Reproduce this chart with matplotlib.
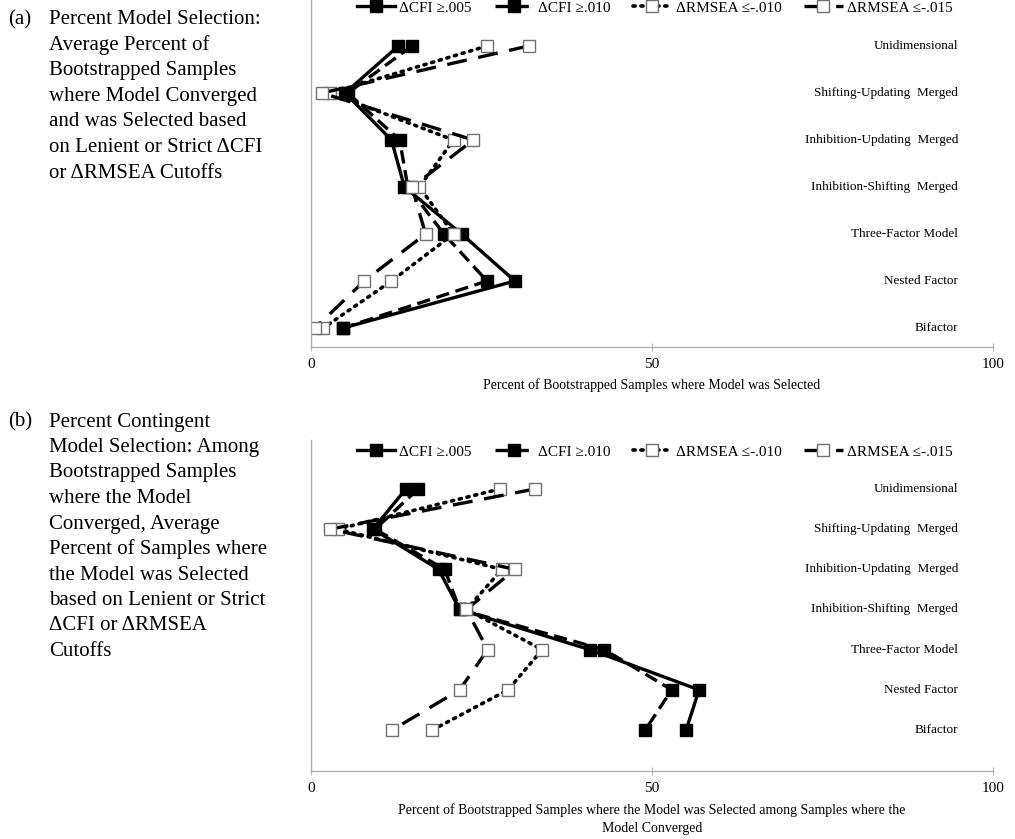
import matplotlib
matplotlib.use('Agg')
import matplotlib.pyplot as plt
from matplotlib.lines import Line2D

plt.rcParams['font.family'] = ['Liberation Serif', 'DejaVu Serif']

W, H = 1015, 839

categories = ['Unidimensional', 'Shifting-Updating  Merged', 'Inhibition-Updating  Merged',
              'Inhibition-Shifting  Merged', 'Three-Factor Model', 'Nested Factor', 'Bifactor']
series_labels = ['\u0394CFI \u2265.005', '\u0394CFI \u2265.010',
                 '\u0394RMSEA \u2264-.010', '\u0394RMSEA \u2264-.015']

# (a) percent model selection, listed top (Unidimensional) to bottom (Bifactor)
cfi005_a = [12.8, 5.0, 11.8, 13.7, 22.1, 29.9, 4.7]
cfi010_a = [14.8, 5.4, 13.0, 14.2, 19.5, 25.8, 4.7]
rmsea010_a = [25.8, 2.8, 20.9, 15.9, 20.9, 11.8, 1.8]
rmsea015_a = [31.9, 1.6, 23.8, 14.8, 16.8, 7.8, 0.6]

# (b) percent contingent model selection
cfi005_b = [13.9, 9.1, 18.7, 21.8, 40.9, 56.9, 55.0]
cfi010_b = [15.7, 9.4, 19.6, 21.8, 43.0, 52.9, 49.0]
rmsea010_b = [27.7, 3.9, 28.0, 22.8, 33.9, 28.9, 17.8]
rmsea015_b = [32.8, 2.8, 29.9, 22.8, 25.9, 21.8, 11.9]

text_a = ['Percent Model Selection:', 'Average Percent of', 'Bootstrapped Samples',
          'where Model Converged', 'and was Selected based',
          'on Lenient or Strict \u0394CFI', 'or \u0394RMSEA Cutoffs']
text_b = ['Percent Contingent', 'Model Selection: Among', 'Bootstrapped Samples',
          'where the Model', 'Converged, Average', 'Percent of Samples where',
          'the Model was Selected', 'based on Lenient or Strict',
          '\u0394CFI or \u0394RMSEA', 'Cutoffs']

xlabel_a = 'Percent of Bootstrapped Samples where Model was Selected'
xlabel_b = ('Percent of Bootstrapped Samples where the Model was Selected among Samples where the\n'
            'Model Converged')

styles = [
    dict(color='black', lw=2.4, ls='-', marker='s', mfc='black', mec='black'),
    dict(color='black', lw=2.4, ls=(0, (4, 2)), marker='s', mfc='black', mec='black'),
    dict(color='black', lw=2.6, ls=(0, (0.6, 1.6)), dash_capstyle='round',
         marker='s', mfc='white', mec='#707070'),
    dict(color='black', lw=2.4, ls=(0, (6, 3.5)), marker='s', mfc='white', mec='#707070'),
]

fig = plt.figure(figsize=(W / 100, H / 100), dpi=100)


def px_axes(left, top, right, bottom):
    return fig.add_axes([left / W, 1 - bottom / H, (right - left) / W, (bottom - top) / H])


def draw_panel(ax, data, ylim, legend_y):
    ypos = list(range(len(categories), 0, -1))
    for vals, st, lab in zip(data, styles, series_labels):
        ax.plot(vals, ypos, ms=8, mew=1.0, label=lab, **st)
    ax.set_xlim(0, 100)
    ax.set_ylim(*ylim)
    ax.set_xticks([0, 50, 100])
    ax.set_yticks([])
    for s in ['top', 'right']:
        ax.spines[s].set_visible(False)
    for s in ['left', 'bottom']:
        ax.spines[s].set_color('#b0b0b0')
        ax.spines[s].set_linewidth(1.0)
    ax.tick_params(axis='x', direction='inout', length=6, color='#b0b0b0',
                   labelsize=11, pad=5)
    for y, c in zip(ypos, categories):
        ax.text(94.9, y, c, ha='right', va='center', fontsize=9.5)
    handles = [Line2D([], [], ms=8, mew=1.0, **st) for st in styles]
    ax.legend(handles, series_labels, loc='center', bbox_to_anchor=(0.504, legend_y),
              ncol=4, frameon=False, fontsize=11, handlelength=2.5,
              handletextpad=0.3, columnspacing=1.5, borderpad=0)


# panel (a): axis box from y=0 to y=347 px, categories 47 px apart
ax_a = px_axes(311, 0, 993, 347)
draw_panel(ax_a, [cfi005_a, cfi010_a, rmsea010_a, rmsea015_a], (1 - 19 / 47, 7 + 46 / 47), 1 - 8 / 347)
ax_a.set_xlabel(xlabel_a, fontsize=10, labelpad=5)

# panel (b): axis box from y=440 to y=771 px, categories ~40 px apart
ax_b = px_axes(311, 440, 993, 771)
draw_panel(ax_b, [cfi005_b, cfi010_b, rmsea010_b, rmsea015_b], (1 - 41 / 40.17, 7 + 49 / 40.17),
           1 - 12 / 331)
ax_b.set_xlabel(xlabel_b, fontsize=10, labelpad=6, linespacing=1.5)

# panel captions on the left
step = 25.5
fig.text(8 / W, 1 - 20 / H, '(a)', fontsize=15, va='center')
for i, line in enumerate(text_a):
    fig.text(49 / W, 1 - (20 + i * step) / H, line, fontsize=15, va='center')
fig.text(8 / W, 1 - 422 / H, '(b)', fontsize=15, va='center')
for i, line in enumerate(text_b):
    fig.text(49 / W, 1 - (422 + i * step) / H, line, fontsize=15, va='center')

fig.savefig('out.png', dpi=100)
